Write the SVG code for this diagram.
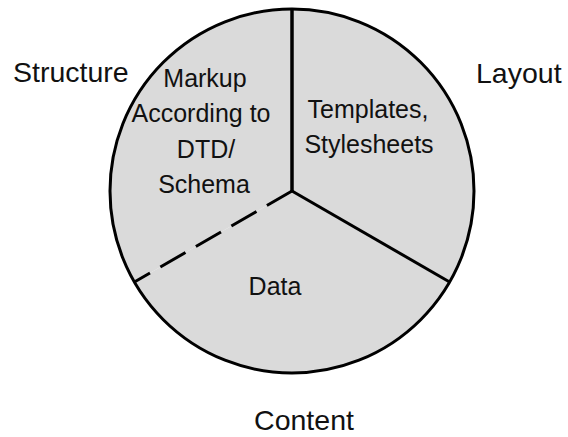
<svg xmlns="http://www.w3.org/2000/svg" width="568" height="437" viewBox="0 0 568 437">
<style>
.sector{fill:#dadada;stroke:none}
.lbl{font-family:"Liberation Sans",Arial,sans-serif;font-size:25px;fill:#111;text-anchor:middle}
.outer{font-family:"Liberation Sans",Arial,sans-serif;font-size:28.5px;fill:#111}
.edge{stroke:#000;stroke-width:3;fill:none}
</style>
<rect width="568" height="437" fill="#fff"/>
<g id="structure">
<path class="sector" d="M292,191 L292,9 A182,182 0 0 0 134.4,282 Z"/>
<text class="lbl" x="205" y="87">Markup</text>
<text class="lbl" x="201" y="122">According to</text>
<text class="lbl" x="206" y="158">DTD/</text>
<text class="lbl" x="204" y="193">Schema</text>
</g>
<g id="layout">
<path class="sector" d="M292,191 L292,9 A182,182 0 0 1 449.6,282 Z"/>
<text class="lbl" x="368" y="118">Templates,</text>
<text class="lbl" x="369" y="153">Stylesheets</text>
</g>
<g id="content">
<path class="sector" d="M292,191 L449.6,282 A182,182 0 0 1 134.4,282 Z"/>
<text class="lbl" x="275" y="295">Data</text>
</g>
<g id="connectors">
<circle class="edge" cx="292" cy="191" r="182"/>
<line class="edge" x1="292" y1="9" x2="292" y2="192" style="stroke-width:3.5"/>
<line class="edge" x1="292" y1="191" x2="449.6" y2="282"/>
<line class="edge" x1="292" y1="191" x2="134.4" y2="282" stroke-dasharray="29 12"/>
</g>
<g id="labels">
<text class="outer" x="13" y="82">Structure</text>
<text class="outer" x="476" y="83">Layout</text>
<text class="outer" x="304" y="430" text-anchor="middle">Content</text>
</g>
</svg>
